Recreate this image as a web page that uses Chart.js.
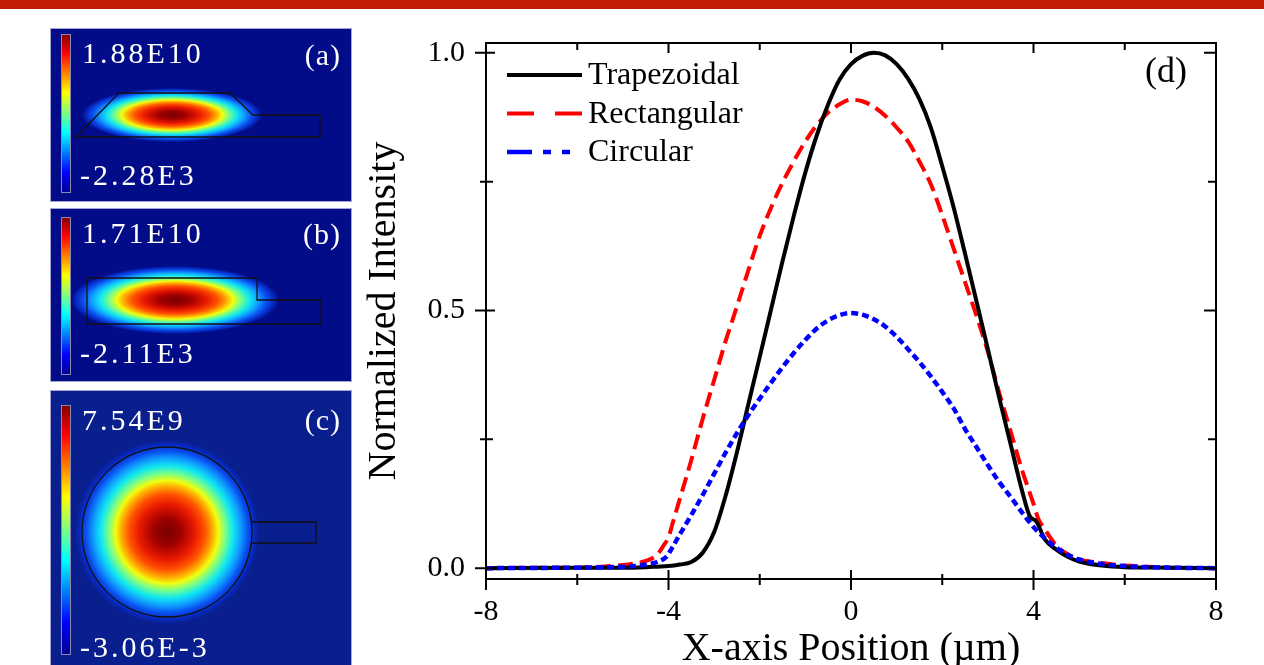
<!DOCTYPE html>
<html>
<head>
<meta charset="utf-8">
<script src="https://cdn.jsdelivr.net/npm/chart.js@4.4.1/dist/chart.umd.min.js"></script>
<style>
  html, body { margin: 0; padding: 0; background: #fff; overflow: hidden; }
  body { width: 1264px; height: 665px; position: relative; }
  .topbar { position: absolute; left: 0; top: 0; width: 1264px; height: 9px; background: #c21f06; }
  .inset { position: absolute; left: 50px; width: 300px; border: 1px solid #a4a4d4; }
  #boxA { top: 28px; height: 172px; }
  #boxB { top: 208px; height: 172px; }
  #boxC { top: 390px; height: 280px; }
  #mainBox { position: absolute; left: 360px; top: 0; width: 904px; height: 665px; }
</style>
</head>
<body>
<div class="topbar"></div>
<div class="inset" id="boxA"><canvas id="insetA"></canvas></div>
<div class="inset" id="boxB"><canvas id="insetB"></canvas></div>
<div class="inset" id="boxC"><canvas id="insetC"></canvas></div>
<div id="mainBox"><canvas id="profileChart"></canvas></div>

<script>
// Daten (d): Normalisierte Intensität entlang der x-Achse
const trapX = [-8, -6, -5, -4.5, -4.25, -4, -3.75, -3.5, -3.25, -3.0, -2.75, -2.5, -2.25, -2, -1.75, -1.5, -1.25, -1, -0.75, -0.5, -0.25, 0, 0.25, 0.5, 0.75, 1, 1.25, 1.5, 1.75, 2, 2.25, 2.5, 2.75, 3, 3.25, 3.5, 3.75, 3.93, 4.05, 4.25, 4.5, 4.75, 5, 5.5, 6, 7, 8];
const trapY = [0, 0.001, 0.001, 0.002, 0.003, 0.004, 0.007, 0.012, 0.03, 0.07, 0.14, 0.225, 0.318, 0.41, 0.503, 0.596, 0.685, 0.768, 0.84, 0.9, 0.948, 0.978, 0.994, 1.0, 0.995, 0.978, 0.95, 0.91, 0.855, 0.78, 0.7, 0.61, 0.518, 0.425, 0.33, 0.24, 0.15, 0.099, 0.092, 0.056, 0.036, 0.022, 0.013, 0.005, 0.002, 0.001, 0];

const rectX = [-8, -6.5, -6, -5.5, -5, -4.75, -4.5, -4.25, -4.1, -4, -3.9, -3.75, -3.5, -3.25, -3, -2.75, -2.5, -2.25, -2, -1.75, -1.5, -1.25, -1, -0.75, -0.5, -0.25, 0, 0.25, 0.5, 0.75, 1, 1.25, 1.5, 1.75, 2, 2.25, 2.5, 2.75, 3, 3.25, 3.5, 3.75, 4, 4.1, 4.25, 4.5, 4.75, 5, 5.5, 6, 6.5, 7, 8];
const rectY = [0, 0.001, 0.001, 0.003, 0.006, 0.009, 0.014, 0.026, 0.045, 0.06, 0.09, 0.135, 0.21, 0.29, 0.365, 0.44, 0.508, 0.578, 0.645, 0.7, 0.748, 0.79, 0.828, 0.86, 0.884, 0.9, 0.909, 0.906, 0.895, 0.878, 0.855, 0.828, 0.789, 0.745, 0.685, 0.62, 0.555, 0.49, 0.42, 0.34, 0.265, 0.19, 0.125, 0.097, 0.075, 0.044, 0.027, 0.017, 0.01, 0.005, 0.003, 0.001, 0];

const circX = [-8, -6, -5.25, -4.75, -4.5, -4.25, -4.05, -3.95, -3.75, -3.5, -3.25, -3, -2.75, -2.5, -2.25, -2, -1.75, -1.5, -1.25, -1, -0.75, -0.5, -0.25, 0, 0.25, 0.5, 0.75, 1, 1.25, 1.5, 1.75, 2, 2.25, 2.5, 2.75, 3, 3.25, 3.5, 3.75, 4, 4.25, 4.5, 4.75, 5, 5.5, 6, 7, 8];
const circY = [0, 0.001, 0.002, 0.004, 0.007, 0.012, 0.022, 0.035, 0.066, 0.103, 0.142, 0.183, 0.224, 0.262, 0.297, 0.329, 0.36, 0.39, 0.418, 0.443, 0.465, 0.481, 0.491, 0.495, 0.492, 0.483, 0.469, 0.449, 0.425, 0.4, 0.372, 0.342, 0.31, 0.27, 0.235, 0.2, 0.167, 0.138, 0.108, 0.08, 0.058, 0.04, 0.026, 0.017, 0.008, 0.004, 0.001, 0];

const seriesNames = ['Trapezoidal', 'Rectangular', 'Circular'];
const xTicks = [-8, -6, -4, -2, 0, 2, 4, 6, 8];
const xTickLabels = ['-8', '', '-4', '', '0', '', '4', '', '8'];
const yTicks = [0, 0.25, 0.5, 0.75, 1];
const yTickLabels = ['0.0', '', '0.5', '', '1.0'];

// Einsätze (a)-(c): Farbskalen-Grenzen und Bezeichnungen
const insetMax = ['1.88E10', '1.71E10', '7.54E9'];
const insetMin = ['-2.28E3', '-2.11E3', '-3.06E-3'];
const insetTags = ['(a)', '(b)', '(c)'];

// Wellenleiter-Umrisse in Bildkoordinaten der Einsätze
const trapOutlineX = [25, 68, 179, 202, 269, 269, 25];
const trapOutlineY = [108, 64, 64, 86, 86, 108, 108];
const rectOutlineX = [36, 206, 206, 270, 270, 36, 36];
const rectOutlineY = [69, 69, 91, 91, 115, 115, 69];
const stubOutlineX = [200, 265, 265, 200];
const stubOutlineY = [131, 131, 152, 152];

const serif = '"Liberation Serif", "DejaVu Serif", serif';
Chart.defaults.font.family = serif;
Chart.defaults.color = '#000';

const pts = (xs, ys) => xs.map((x, i) => ({ x: x, y: ys[i] }));

// Jet-Farbverlauf für das Modenfeld
const jetField = [[0, '#780000'], [0.15, '#a00000'], [0.3, '#e81800'], [0.41, '#ff5000'], [0.5, '#ffb000'],
  [0.56, '#f0ff10'], [0.63, '#80ff80'], [0.72, '#10e8f0'], [0.8, '#10a0ff'], [0.88, '#0a50f0'], [0.95, '#0628c0']];
const jetBar = [[0, '#800000'], [0.12, '#ff0000'], [0.37, '#ffff00'], [0.62, '#00ffff'], [0.87, '#0000ff'], [1, '#000090']];

const insetField = {
  id: 'insetField',
  beforeDatasetsDraw(chart, args, opts) {
    const { ctx, chartArea: a, scales: { x, y } } = chart;
    ctx.save();
    ctx.fillStyle = opts.bg;
    ctx.fillRect(a.left, a.top, a.width, a.height);

    // Feldverteilung als elliptischer Verlauf
    const cx = x.getPixelForValue(opts.cx);
    const cy = y.getPixelForValue(opts.cy);
    const rx = Math.abs(x.getPixelForValue(opts.cx + opts.rx) - cx);
    const ry = Math.abs(y.getPixelForValue(opts.cy + opts.ry) - cy);
    ctx.save();
    ctx.translate(cx, cy);
    ctx.scale(rx, ry);
    const g = ctx.createRadialGradient(0, 0, 0, 0, 0, 1);
    jetField.forEach(([p, c]) => g.addColorStop(p, c));
    g.addColorStop(1, opts.bg);
    ctx.fillStyle = g;
    ctx.beginPath();
    ctx.arc(0, 0, 1, 0, Math.PI * 2);
    ctx.fill();
    ctx.restore();

    // Farbbalken links
    const top = y.getPixelForValue(opts.barTop);
    const bottom = y.getPixelForValue(opts.barBottom);
    const left = x.getPixelForValue(10);
    const right = x.getPixelForValue(20);
    const bg = ctx.createLinearGradient(0, top, 0, bottom);
    jetBar.forEach(([p, c]) => bg.addColorStop(p, c));
    ctx.fillStyle = bg;
    ctx.fillRect(left, top, right - left, bottom - top);
    ctx.strokeStyle = '#8a8ab0';
    ctx.lineWidth = 1;
    ctx.strokeRect(left + 0.5, top + 0.5, right - left - 1, bottom - top - 1);
    ctx.restore();
  },
  afterDatasetsDraw(chart, args, opts) {
    const { ctx, scales: { x, y } } = chart;
    ctx.save();
    ctx.fillStyle = '#fff';
    ctx.font = '30px ' + serif;
    ctx.textBaseline = 'alphabetic';
    ctx.letterSpacing = '3px';
    ctx.textAlign = 'left';
    ctx.fillText(opts.maxText, x.getPixelForValue(31), y.getPixelForValue(opts.maxBase));
    ctx.fillText(opts.minText, x.getPixelForValue(29), y.getPixelForValue(opts.minBase));
    ctx.letterSpacing = '1px';
    ctx.textAlign = 'right';
    ctx.fillText(opts.tag, x.getPixelForValue(290), y.getPixelForValue(opts.tagBase));
    ctx.restore();
  }
};

function outline(xs, ys) {
  return {
    data: pts(xs, ys),
    showLine: true,
    borderColor: '#111',
    borderWidth: 1.3,
    pointRadius: 0,
    tension: 0
  };
}

function makeInset(id, height, datasets, field) {
  new Chart(document.getElementById(id), {
    type: 'scatter',
    data: { datasets: datasets },
    options: {
      responsive: true,
      maintainAspectRatio: false,
      animation: false,
      devicePixelRatio: 1,
      events: [],
      layout: { padding: 0, autoPadding: false },
      plugins: { legend: { display: false }, tooltip: { enabled: false }, insetField: field },
      scales: {
        x: { display: false, min: 0, max: 300 },
        y: { display: false, min: 0, max: height, reverse: true }
      }
    },
    plugins: [insetField]
  });
}

makeInset('insetA', 172, [outline(trapOutlineX, trapOutlineY)], {
  bg: '#020c88', cx: 121, cy: 86, rx: 90, ry: 27, barTop: 5, barBottom: 164,
  maxText: insetMax[0], minText: insetMin[0], tag: insetTags[0], maxBase: 34, minBase: 156, tagBase: 36
});

makeInset('insetB', 172, [outline(rectOutlineX, rectOutlineY)], {
  bg: '#020c88', cx: 124, cy: 91, rx: 104, ry: 34, barTop: 8, barBottom: 166,
  maxText: insetMax[1], minText: insetMin[1], tag: insetTags[1], maxBase: 34, minBase: 154, tagBase: 35
});

makeInset('insetC', 280, [
  { data: [{ x: 116, y: 141 }], pointRadius: 85, pointBorderWidth: 1.3, pointBorderColor: '#111', pointBackgroundColor: 'rgba(0,0,0,0)', showLine: false },
  outline(stubOutlineX, stubOutlineY)
], {
  bg: '#0a1f8e', cx: 116, cy: 141, rx: 92, ry: 92, barTop: 14, barBottom: 264,
  maxText: insetMax[2], minText: insetMin[2], tag: insetTags[2], maxBase: 39, minBase: 266, tagBase: 39
});

// Rahmen mit Haupt- und Nebenstrichen, Legende im Diagramm und Beschriftung (d)
const frameAndLegend = {
  id: 'frameAndLegend',
  afterDraw(chart) {
    const { ctx, chartArea: a, scales: { x, y } } = chart;
    ctx.save();
    ctx.strokeStyle = '#000';
    ctx.lineWidth = 2;
    ctx.strokeRect(a.left, a.top, a.right - a.left, a.bottom - a.top);

    ctx.beginPath();
    x.ticks.forEach((t, i) => {
      const px = x.getPixelForValue(t.value);
      const major = xTickLabels[i] !== '';
      ctx.moveTo(px, a.bottom - (major ? 9 : 5));
      ctx.lineTo(px, a.bottom + (major ? 11 : 6));
      ctx.moveTo(px, a.top);
      ctx.lineTo(px, a.top + (major ? 10 : 7));
    });
    y.ticks.forEach((t, i) => {
      const py = y.getPixelForValue(t.value);
      const major = yTickLabels[i] !== '';
      ctx.moveTo(a.left - (major ? 11 : 6), py);
      ctx.lineTo(a.left + (major ? 9 : 7), py);
      ctx.moveTo(a.right, py);
      ctx.lineTo(a.right - (major ? 12 : 8), py);
    });
    ctx.stroke();

    // Legende
    ctx.font = '32px ' + serif;
    ctx.textAlign = 'left';
    ctx.textBaseline = 'middle';
    chart.data.datasets.forEach((ds, i) => {
      const rowY = a.top + 32 + i * 38.5;
      ctx.save();
      ctx.strokeStyle = ds.borderColor;
      ctx.lineWidth = ds.borderWidth;
      ctx.setLineDash(ds.legendDash);
      ctx.beginPath();
      ctx.moveTo(a.left + 21, rowY);
      ctx.lineTo(a.left + 96, rowY);
      ctx.stroke();
      ctx.restore();
      ctx.fillStyle = '#000';
      ctx.fillText(ds.label, a.left + 102, rowY + 1);
    });

    ctx.font = '36px ' + serif;
    ctx.textAlign = 'right';
    ctx.textBaseline = 'alphabetic';
    ctx.fillText('(d)', a.right - 29, a.top + 39);
    ctx.restore();
  }
};

new Chart(document.getElementById('profileChart'), {
  type: 'scatter',
  data: {
    datasets: [
      {
        label: seriesNames[0],
        data: pts(trapX, trapY),
        showLine: true,
        borderColor: '#000',
        borderWidth: 4,
        pointRadius: 0,
        cubicInterpolationMode: 'monotone',
        legendDash: [],
        order: 2
      },
      {
        label: seriesNames[1],
        data: pts(rectX, rectY),
        showLine: true,
        borderColor: '#ff0000',
        borderWidth: 4,
        borderDash: [15, 7],
        pointRadius: 0,
        cubicInterpolationMode: 'monotone',
        legendDash: [27, 21, 27],
        order: 3
      },
      {
        label: seriesNames[2],
        data: pts(circX, circY),
        showLine: true,
        borderColor: '#0000ff',
        borderWidth: 4.5,
        borderDash: [7, 4],
        pointRadius: 0,
        cubicInterpolationMode: 'monotone',
        legendDash: [25, 11, 8, 11, 8, 12],
        order: 1
      }
    ]
  },
  options: {
    responsive: true,
    maintainAspectRatio: false,
    animation: false,
    devicePixelRatio: 1,
    events: [],
    layout: { padding: { top: 43, right: 48, left: 0, bottom: 0 }, autoPadding: false },
    plugins: { legend: { display: false }, tooltip: { enabled: false } },
    scales: {
      x: {
        type: 'linear',
        min: -8,
        max: 8,
        afterBuildTicks: s => { s.ticks = xTicks.map(v => ({ value: v })); },
        afterFit: s => { s.height = 86; },
        grid: { display: false, drawTicks: false },
        border: { display: false },
        ticks: {
          font: { size: 30 },
          color: '#000',
          padding: 15,
          maxRotation: 0,
          autoSkip: false,
          callback: (v, i) => xTickLabels[i]
        },
        title: {
          display: true,
          text: 'X-axis Position (µm)',
          font: { size: 40, lineHeight: 0.8 },
          color: '#000',
          padding: { top: 0, bottom: 0 }
        }
      },
      y: {
        type: 'linear',
        min: -0.021,
        max: 1.019,
        afterBuildTicks: s => { s.ticks = yTicks.map(v => ({ value: v })); },
        afterFit: s => { s.width = 126; },
        grid: { display: false, drawTicks: false },
        border: { display: false },
        ticks: {
          font: { size: 30 },
          color: '#000',
          padding: 21,
          autoSkip: false,
          callback: (v, i) => yTickLabels[i]
        },
        title: {
          display: true,
          text: 'Normalized Intensity',
          font: { size: 40, lineHeight: 1 },
          color: '#000',
          padding: { top: 4, bottom: 0 }
        }
      }
    }
  },
  plugins: [frameAndLegend]
});
</script>
</body>
</html>
